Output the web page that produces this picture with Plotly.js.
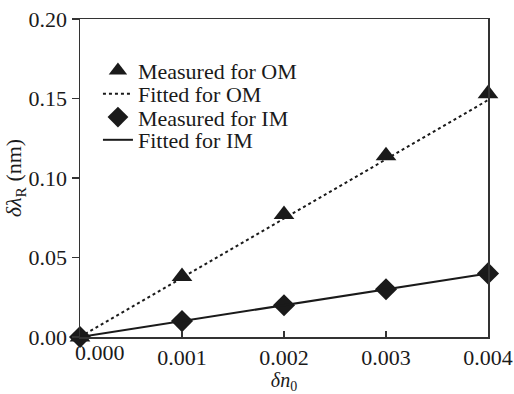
<!DOCTYPE html>
<html><head><meta charset="utf-8">
<script src="https://cdn.plot.ly/plotly-3.0.1.min.js"></script>
<style>html,body{margin:0;padding:0;background:#fff}</style></head>
<body>
<div id="chart" style="width:514px;height:394px"></div>
<script>
const xVals = [0, 0.001, 0.002, 0.003, 0.004];
const omMeasured = [0, 0.038, 0.077, 0.114, 0.153];
const imMeasured = [0, 0.010, 0.020, 0.030, 0.040];
const fitX = [0, 0.004];
const omFitted = [0, 0.149];
const imFitted = [0, 0.040];
const xTickVals = [0, 0.001, 0.002, 0.003, 0.004];
const xTickText = ['', '0.001', '0.002', '0.003', '0.004'];
const xFirstTickVal = [0];
const xFirstTickText = ['0.000'];
const yTickVals = [0, 0.05, 0.10, 0.15, 0.20];
const yTickText = ['0.00', '0.05', '0.10', '0.15', '0.20'];

const FONT = 'Liberation Serif';
const INK = '#1a1a1a';
const X_RANGE = [0, 0.004];

const traces = [
  {x: xVals, y: omMeasured, name: 'Measured for OM', mode: 'markers', type: 'scatter', cliponaxis: false,
   legend: 'legend', marker: {symbol: 'triangle-up', size: 18, color: INK}},
  {x: fitX, y: omFitted, name: 'Fitted for OM', mode: 'lines', type: 'scatter', cliponaxis: false,
   legend: 'legend2', line: {color: INK, width: 2, dash: 'dot'}},
  {x: xVals, y: imMeasured, name: 'Measured for IM', mode: 'markers', type: 'scatter', cliponaxis: false,
   legend: 'legend3', marker: {symbol: 'diamond', size: 17, color: INK}},
  {x: fitX, y: imFitted, name: 'Fitted for IM', mode: 'lines', type: 'scatter', cliponaxis: false,
   xaxis: 'x2', legend: 'legend4', line: {color: INK, width: 2}}
];

function leg(yPix) {
  return {x: 0.044, y: (337 - yPix) / 318, xanchor: 'left', yanchor: 'middle',
          bgcolor: 'rgba(0,0,0,0)', borderwidth: 0,
          font: {family: FONT, size: 22, color: INK}};
}

const layout = {
  width: 514, height: 394,
  margin: {l: 80, r: 26, t: 19, b: 57},
  paper_bgcolor: '#fff', plot_bgcolor: '#fff',
  font: {family: FONT, size: 21, color: INK},
  showlegend: true,
  legend: leg(70.7), legend2: leg(94), legend3: leg(117.3), legend4: leg(140),
  xaxis: {
    range: X_RANGE, tickvals: xTickVals, ticktext: xTickText,
    showline: true, linecolor: '#333', linewidth: 1.5, mirror: true,
    ticks: 'inside', ticklen: 6, tickwidth: 1.5, tickcolor: '#333',
    showgrid: false, zeroline: false, automargin: false,
    tickfont: {family: FONT, size: 22, color: INK},
    title: {text: '<i>δn</i><sub>0</sub>', font: {family: FONT, size: 20, color: INK}, standoff: 9}
  },
  xaxis2: {
    overlaying: 'x', anchor: 'y', side: 'bottom',
    range: X_RANGE, tickvals: xFirstTickVal, ticktext: xFirstTickText,
    ticklabelposition: 'outside right', ticklabelshift: -5,
    showline: false, ticks: '', showgrid: false, zeroline: false, automargin: false,
    tickfont: {family: FONT, size: 22, color: INK}
  },
  yaxis: {
    range: [0, 0.2], tickvals: yTickVals, ticktext: yTickText,
    showline: true, linecolor: '#333', linewidth: 1.5, mirror: true,
    ticks: 'outside', ticklen: 7, tickwidth: 1.5, tickcolor: '#333',
    showgrid: false, zeroline: false, automargin: false,
    tickfont: {family: FONT, size: 22, color: INK},
    title: {text: '<i>δλ</i><sub>R</sub> (nm)', font: {family: FONT, size: 22, color: INK}, standoff: 0}
  }
};

Plotly.newPlot('chart', traces, layout, {displayModeBar: false, staticPlot: true});
</script>
</body></html>
